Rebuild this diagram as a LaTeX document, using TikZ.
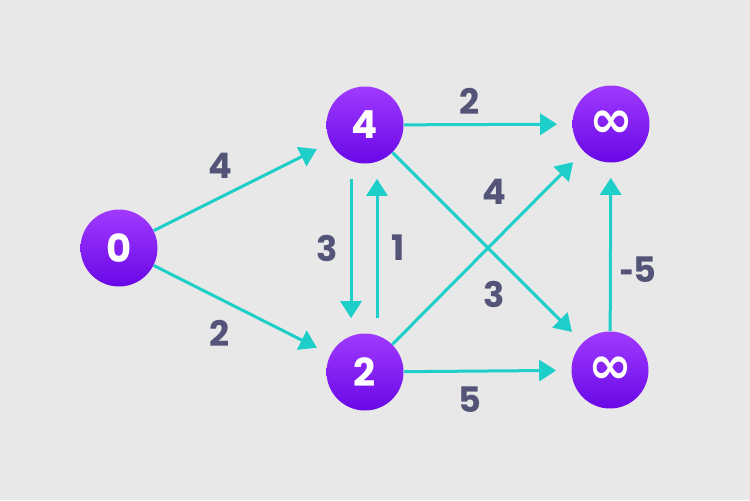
\documentclass[tikz,border=0pt]{standalone}
\usepackage{fontspec}
\setmainfont{Poppins}
\newfontfamily\symfont{DejaVu Sans}
\usepackage{tikz}
\usetikzlibrary{arrows.meta}
\usetikzlibrary{positioning}

\definecolor{bgray}{RGB}{232,232,232}
\definecolor{vtop}{RGB}{160,58,255}
\definecolor{vbot}{RGB}{105,8,230}
\definecolor{edgec}{RGB}{30,206,200}
\definecolor{wlab}{RGB}{84,84,120}

\begin{document}
\begin{tikzpicture}[x=0.02cm,y=-0.02cm,
  vert/.style={circle,minimum size=1.54cm,inner sep=0pt,top color=vtop,bottom color=vbot,
    text=white,font=\fontsize{22}{22}\selectfont\bfseries},
  inf/.style={font=\symfont\fontsize{30}{30}\selectfont\bfseries},
  wt/.style={text=wlab,font=\fontsize{20}{20}\selectfont\bfseries,inner sep=0pt},
  arr/.style={draw=edgec,line width=0.06cm,-{Triangle[length=0.34cm,width=0.42cm]},shorten >=0.3cm}]
 \fill[bgray] (0,0) rectangle (750,500);
 \useasboundingbox (0,0) rectangle (750,500);
 % vertices
 \node[vert] (n0) at (119,248) {0};
 \node[vert] (n4) at (365,125) {4};
 \node[vert,inf] (nA) at (611,124) {∞};
 \node[vert] (n2) at (365,372) {2};
 \node[vert,inf] (nB) at (610,370) {∞};
 % edges
 \draw[arr] (n0) -- (n4);
 \draw[arr] (n0) -- (n2);
 \draw[arr] (n4) -- (nA);
 \draw[arr] (n4) -- (nB);
 \draw[arr] (n2) -- (nA);
 \draw[arr] (n2) -- (nB);
 \draw[arr] (nB) -- (nA);
 \draw[arr,shorten <=0.3cm] ([xshift=-0.28cm]n4.south) -- ([xshift=-0.28cm]n2.north);
 \draw[arr,shorten <=0.3cm] ([xshift=0.24cm]n2.north) -- ([xshift=0.24cm]n4.south);
 % weights
 \node[wt] (w04) at (220,166) {4};
 \node[wt] (w02) at (220,333) {2};
 \node[wt] (w4A) at (470,101) {2};
 \node[wt] (w2A) at (494,192) {4};
 \node[wt] (w4B) at (494,294) {3};
 \node[wt] (w2B) at (470,400) {5};
 \node[wt] (wBA) at (638,270) {{\symfont\bfseries -}5};
 \node[wt] (w42) at (327,248) {3};
 \node[wt] (w24) at (398,248) {1};
\end{tikzpicture}
\end{document}
